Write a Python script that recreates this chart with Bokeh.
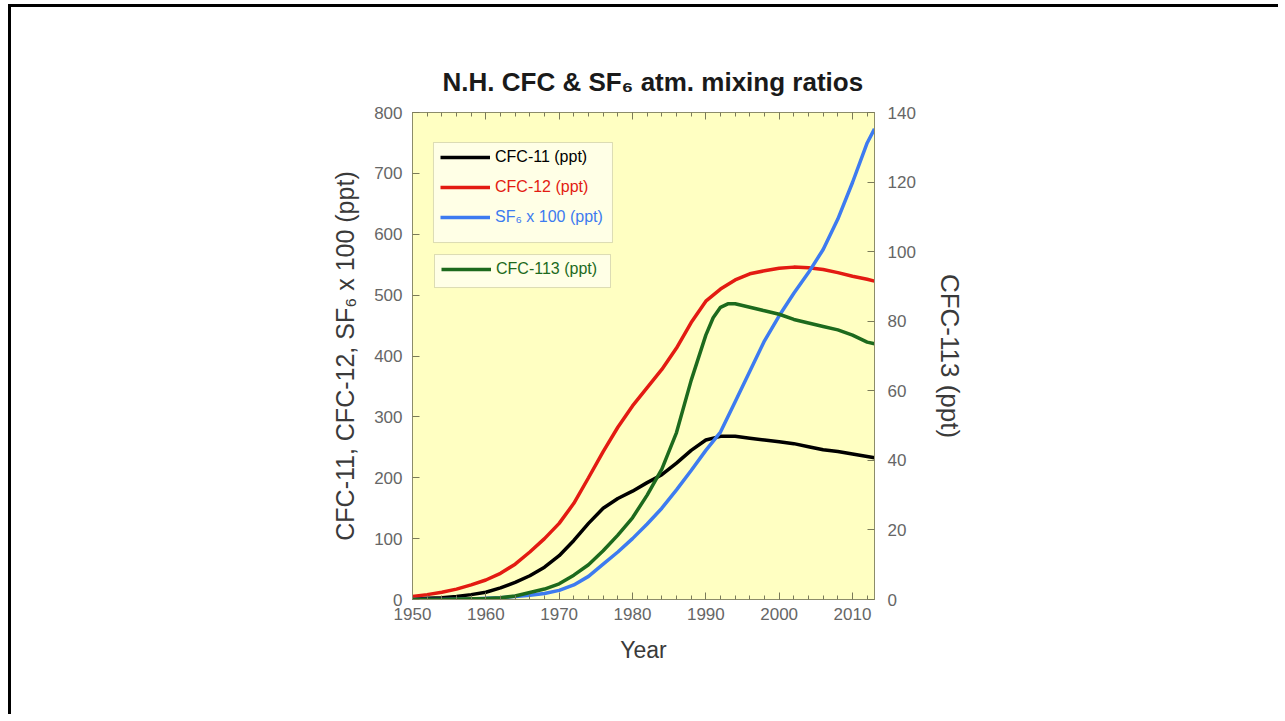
from bokeh.plotting import figure
from bokeh.models import (Range1d, LinearAxis, SingleIntervalTicker, Legend,
                          LegendItem, BoxAnnotation)
from bokeh.embed import file_html
from bokeh.resources import INLINE

# ---- data ----
years = [1950, 1952, 1954, 1956, 1958, 1960, 1962, 1964, 1966, 1968, 1970,
         1972, 1974, 1976, 1978, 1980, 1982, 1984, 1986, 1988, 1990, 1992,
         1994, 1996, 1998, 2000, 2002, 2004, 2006, 2008, 2010, 2012, 2013]
cfc11 = [1, 2, 3, 5, 8, 12, 19, 28, 39, 53, 72, 97, 125, 150, 166, 178, 192,
         205, 224, 245, 262, 268, 268, 265, 262, 259, 256, 251, 246, 243, 239,
         235, 233]
cfc12 = [5, 8, 12, 17, 24, 32, 43, 58, 78, 100, 125, 158, 200, 243, 283, 318,
         348, 378, 413, 455, 490, 510, 525, 535, 540, 544, 546, 545, 542, 537,
         531, 526, 523]
years_sf6 = [1950, 1954, 1956, 1958, 1960, 1962, 1964, 1966, 1968, 1970, 1972,
             1974, 1976, 1978, 1980, 1982, 1984, 1986, 1988, 1990, 1992, 1994,
             1996, 1998, 2000, 2002, 2004, 2006, 2008, 2010, 2012, 2013]
sf6_x100 = [0, 0, 0.5, 1, 2, 3, 5, 7, 10, 15, 24, 38, 58, 78, 100, 124, 150,
            180, 212, 245, 275, 325, 375, 425, 466, 503, 537, 575, 625, 685,
            750, 773]
years_113 = [1950, 1955, 1960, 1962, 1964, 1966, 1968, 1970, 1972, 1974, 1976,
             1978, 1980, 1982, 1984, 1986, 1988, 1990, 1991, 1992, 1993, 1994,
             1996, 1998, 2000, 2002, 2004, 2006, 2008, 2010, 2012, 2013]
cfc113 = [0, 0.1, 0.3, 0.5, 1, 2, 3, 4.5, 7, 10, 14, 18.5, 23.5, 30, 37.5, 48,
          63, 76, 81, 84, 85, 85, 84, 83, 82, 80.5, 79.5, 78.5, 77.5, 76, 74,
          73.5]

title_text = "N.H. CFC & SF\u2086 atm. mixing ratios"
left_label = "CFC-11, CFC-12, SF\u2086 x 100 (ppt)"
right_label = "CFC-113 (ppt)"
x_label = "Year"
labels = ["CFC-11 (ppt)", "CFC-12 (ppt)", "SF\u2086 x 100 (ppt)", "CFC-113 (ppt)"]

FONT = "Liberation Sans"
W, H = 1270, 710
OX, OY = 11, 7          # canvas origin on the page (margin + border)
FL, FT, FR, FB = 412, 112, 874, 599   # frame edges on the page

p = figure(width=W, height=H, output_backend="svg", toolbar_location=None,
           x_range=Range1d(1950, 2013), y_range=Range1d(0, 800),
           min_border_left=FL - OX, min_border_top=FT - OY,
           min_border_right=W - (FR - OX), min_border_bottom=H - (FB - OY),
           background_fill_color="#ffffc2", border_fill_color="white",
           outline_line_color="#8c8c6a", outline_line_width=1)
p.styles = {"margin-left": "8px", "margin-top": "4px",
            "border-top": "3px solid #000", "border-left": "3px solid #000"}
p.grid.visible = False
p.extra_y_ranges = {"cfc113": Range1d(0, 140)}

bottom = p.below[0]
left = p.left[0]
xt = SingleIntervalTicker(interval=10, num_minor_ticks=5)
bottom.ticker = xt
left.ticker = SingleIntervalTicker(interval=100, num_minor_ticks=0)

right = LinearAxis(y_range_name="cfc113",
                   ticker=SingleIntervalTicker(interval=20, num_minor_ticks=0))
p.add_layout(right, "right")
top = LinearAxis(ticker=SingleIntervalTicker(interval=10, num_minor_ticks=5),
                 major_label_text_alpha=0, major_label_text_font_size="1px",
                 major_label_standoff=0)
p.add_layout(top, "above")

for ax in [bottom, left, right, top]:
    ax.axis_line_color = "#8c8c6a"
    ax.major_tick_line_color = "#7a7a5a"
    ax.minor_tick_line_color = "#7a7a5a"
    ax.major_tick_out = 0
    ax.major_tick_in = 7
    ax.minor_tick_out = 0
    ax.minor_tick_in = 4
    ax.major_label_text_font = FONT
    ax.major_label_text_color = "#666666"
    ax.axis_label_text_font = FONT
    ax.axis_label_text_font_style = "normal"
    ax.axis_label_text_color = "#3a3a3a"
for ax in [bottom, left, right]:
    ax.major_label_text_font_size = "17px"

bottom.axis_label = x_label
bottom.axis_label_text_font_size = "23px"
bottom.major_label_standoff = 8
bottom.axis_label_standoff = 14
left.axis_label = left_label
left.axis_label_text_font_size = "25px"
left.major_label_standoff = 10
left.axis_label_standoff = 12
right.axis_label = right_label
right.axis_label_text_font_size = "26px"
right.major_label_standoff = 13
right.axis_label_standoff = 16

p.title.text = title_text
p.title.align = "left"
p.title.offset = 30
p.title.text_font = FONT
p.title.text_font_style = "bold"
p.title.text_font_size = "26px"
p.title.text_color = "#1a1a1a"
p.title.standoff = 32

LW = 3.5
r11 = p.line(years, cfc11, line_color="#000000", line_width=LW)
r12 = p.line(years, cfc12, line_color="#e31b12", line_width=LW)
rsf = p.line(years_sf6, sf6_x100, line_color="#3d7bf0", line_width=LW)
r113 = p.line(years_113, cfc113, line_color="#1d6a1d", line_width=LW,
              y_range_name="cfc113")

# legend frames
p.add_layout(BoxAnnotation(left=1952.86, right=1977.27, top=750.7, bottom=586.4,
                           fill_color="#ffffe6", fill_alpha=1,
                           line_color="#8c8c6a", line_width=1))
p.add_layout(BoxAnnotation(left=1953.0, right=1977.0, top=566.7, bottom=512.5,
                           fill_color="#ffffe6", fill_alpha=1,
                           line_color="#8c8c6a", line_width=1))

leg_specs = [(r11, labels[0], "#000000", 28, 433),
             (r12, labels[1], "#e31b12", 28, 403),
             (rsf, labels[2], "#3d7bf0", 28, 373),
             (r113, labels[3], "#1d6a1d", 29, 321)]
for rend, lab, col, vx, vy in leg_specs:
    lg = Legend(items=[LegendItem(label=lab, renderers=[rend])], location=(vx, vy),
                glyph_width=50, glyph_height=16, label_height=16, label_standoff=5,
                padding=0, margin=0, border_line_alpha=0, background_fill_alpha=0,
                label_text_color=col, label_text_font=FONT,
                label_text_font_size="16px")
    p.add_layout(lg)

open("out.html", "w").write(file_html(p, INLINE))
